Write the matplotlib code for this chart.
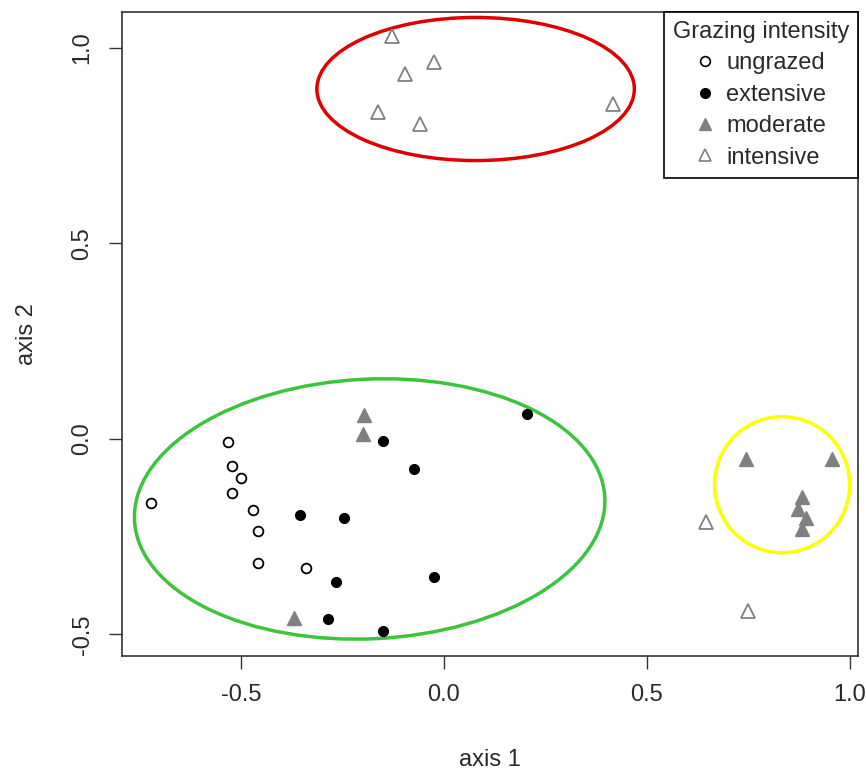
#!/usr/bin/env python3
"""NMDS-style ordination plot of grazing intensity groups."""
import matplotlib
matplotlib.use("Agg")
import matplotlib.pyplot as plt
from matplotlib.lines import Line2D
from matplotlib.patches import Ellipse

plt.rcParams["font.family"] = ["Liberation Sans", "DejaVu Sans"]

# ordination scores
ungrazed_x = [-0.531, -0.523, -0.500, -0.523, -0.722, -0.470, -0.457, -0.457, -0.339]
ungrazed_y = [-0.008, -0.068, -0.100, -0.139, -0.163, -0.182, -0.235, -0.317, -0.330]

extensive_x = [0.205, -0.150, -0.075, -0.355, -0.246, -0.025, -0.266, -0.286, -0.150]
extensive_y = [0.064, -0.004, -0.076, -0.194, -0.202, -0.354, -0.365, -0.460, -0.492]

moderate_x = [-0.197, -0.200, -0.369, 0.743, 0.957, 0.883, 0.872, 0.892, 0.883]
moderate_y = [0.061, 0.012, -0.459, -0.052, -0.050, -0.149, -0.178, -0.202, -0.231]

intensive_x = [0.645, 0.750, -0.128, -0.025, -0.097, -0.163, -0.059, 0.417]
intensive_y = [-0.212, -0.439, 1.031, 0.965, 0.934, 0.836, 0.806, 0.856]

# group ellipses: centre x, centre y, width, height, angle, colour
ellipse_cx = [0.078, -0.183, 0.833]
ellipse_cy = [0.895, -0.179, -0.117]
ellipse_w = [0.782, 1.160, 0.333]
ellipse_h = [0.366, 0.664, 0.348]
ellipse_angle = [0.0, 3.0, 0.0]
ellipse_colors = ["#e00000", "#3cc43c", "#ffff00"]

group_labels = ["ungrazed", "extensive", "moderate", "intensive"]
xticks = [-0.5, 0.0, 0.5, 1.0]
yticks = [-0.5, 0.0, 0.5, 1.0]

fontsize = 17
gray = "#808080"
textcol = "#2a2a2a"

fig = plt.figure(figsize=(8.66, 7.73), dpi=100)
ax = fig.add_axes([0.1409, 0.1514, 0.8499, 0.8331])

ax.plot(ungrazed_x, ungrazed_y, "o", ms=7, mfc="white", mec="black", mew=1.3,
        linestyle="none")
ax.plot(extensive_x, extensive_y, "o", ms=7, mfc="black", mec="black",
        linestyle="none")
ax.plot(moderate_x, moderate_y, "^", ms=10, mfc=gray, mec=gray,
        linestyle="none")
ax.plot(intensive_x, intensive_y, "^", ms=10, mfc="white", mec=gray, mew=1.3,
        linestyle="none")

for cx, cy, w, h, a, c in zip(ellipse_cx, ellipse_cy, ellipse_w, ellipse_h,
                              ellipse_angle, ellipse_colors):
    ax.add_patch(Ellipse((cx, cy), w, h, angle=a, fill=False, ec=c, lw=2.5))

ax.set_xlim(-0.793, 1.020)
ax.set_ylim(-0.555, 1.092)
ax.set_xticks(xticks)
ax.set_xticklabels([f"{v:.1f}" for v in xticks])
ax.set_yticks(yticks)
ax.set_yticklabels([f"{v:.1f}" for v in yticks], rotation=90, va="center")
ax.tick_params(direction="out", length=9.5, width=1.0, labelsize=fontsize,
               pad=11, color="#333333", labelcolor=textcol)
for sp in ax.spines.values():
    sp.set_linewidth(1.2)
    sp.set_color("#333333")

ax.set_xlabel("axis 1", fontsize=fontsize, labelpad=31, color=textcol)
ax.set_ylabel("axis 2", fontsize=fontsize, labelpad=24, color=textcol)

handles = [
    Line2D([], [], marker="o", ls="none", ms=7, mfc="white", mec="black", mew=1.2),
    Line2D([], [], marker="o", ls="none", ms=7, mfc="black", mec="black"),
    Line2D([], [], marker="^", ls="none", ms=9, mfc=gray, mec=gray),
    Line2D([], [], marker="^", ls="none", ms=9, mfc="white", mec=gray, mew=1.2),
]
leg = ax.legend(handles, group_labels, title="Grazing intensity", loc="upper right",
                borderaxespad=0, fontsize=fontsize, title_fontsize=fontsize,
                fancybox=False, framealpha=1, edgecolor="black",
                handlelength=0.8, handletextpad=0.5, labelspacing=0.4,
                borderpad=0.38, alignment="center")
leg.get_frame().set_linewidth(1.2)
for t in leg.get_texts():
    t.set_color(textcol)
leg.get_title().set_color(textcol)

fig.savefig("out.png", dpi=100)
